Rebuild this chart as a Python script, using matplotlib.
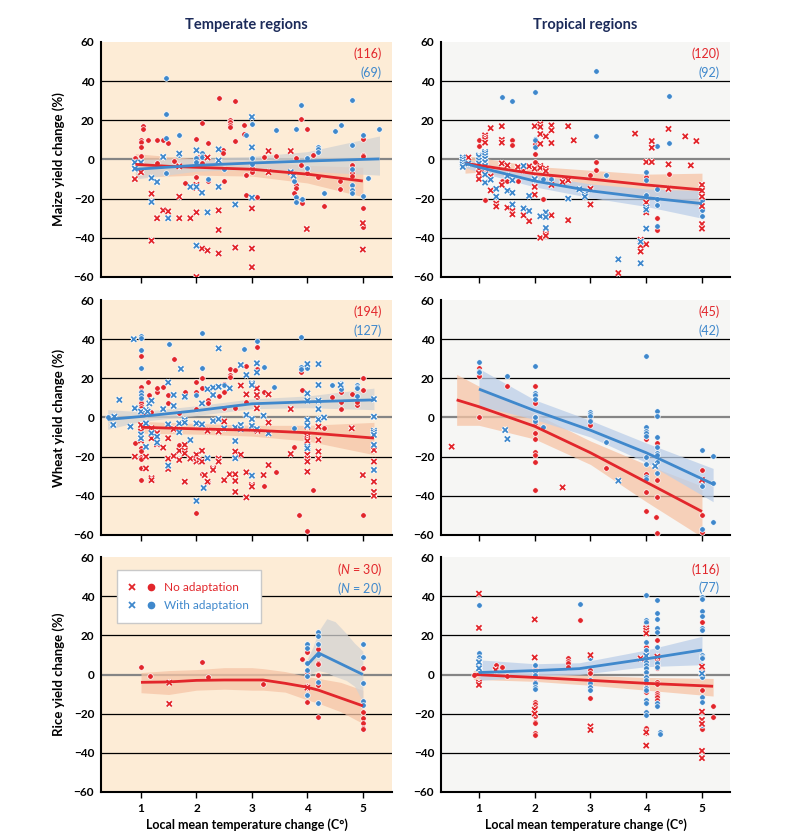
import numpy as np
import matplotlib
matplotlib.use("Agg")
import matplotlib.pyplot as plt
import matplotlib.patheffects as pe
from matplotlib.lines import Line2D
from matplotlib.legend_handler import HandlerTuple

plt.rcParams['font.family'] = ['Lato', 'DejaVu Sans']
plt.rcParams['mathtext.fontset'] = 'custom'
plt.rcParams['mathtext.rm'] = 'Lato'
plt.rcParams['mathtext.it'] = 'Lato:italic'

RED = '#e2262b'
BLUE = '#3f88cc'

# ---------------- maize, temperate ----------------
mt_no_dot = np.array([
    [0.9, 1], [1, 10], [1, 9], [1, 6.5], [1, 2], [1.04, 17], [1.04, 15.5], [1.12, 10],
    [1.29, 10], [1.4, 10], [1.49, 8.5], [1.29, -2], [1.59, -1], [1.79, -12], [1.99, 10.5],
    [2, -9], [2.1, 18.5], [2.1, -2], [2.05, 1.5], [2.2, 8.5], [2.2, -11], [2.4, 31.5],
    [2.48, 5], [2.48, 3.5], [2.5, -11], [2.7, 30], [2.6, 20], [2.6, 19], [2.6, 17.8],
    [2.6, 16.7], [2.7, 9.5], [2.85, 17.5], [2.85, 12.8], [2.9, -8], [2.9, -18], [3, -6.5],
    [3, -4.5], [3.1, -19], [3.21, 1.5], [3.44, 2], [3.8, 0.5], [3.8, -13], [3.8, -14.5],
    [3.75, -17], [3.89, 20.5], [3.89, -3], [3.9, -22], [3.99, 15.5], [4, -7], [4.1, 2.5],
    [4.2, -9], [4.3, -24], [4.59, -11], [4.59, -15], [4.8, -3], [4.8, -7], [4.8, -8.5],
    [5, 10.5], [5, 2.5], [5, 1.8], [5, -25], [5, -33.5], [5, -34.5]])
mt_no_x = np.array([
    [0.89, -10], [1, -6.5], [1.19, -17.5], [1.19, -41.5], [1.29, -30], [1.4, -26],
    [1.49, -26.5], [1.69, -19], [1.69, -30], [1.69, -3.5], [1.89, -30], [2, -13],
    [2, -14.5], [2, -27], [2, -60], [2.1, -45.5], [2.2, -46.5], [2.2, 1], [2.4, -26],
    [2.4, -36], [2.4, -48], [2.7, -45], [3, -45.5], [3, -55], [3, -25], [3.3, 4.3],
    [3.3, -6.5], [3.7, 4.3], [3.99, -35.5], [5, -32.5], [5, -46]])
mt_ad_dot = np.array([
    [1.45, 41.8], [1.45, 23], [1.45, 11], [1.45, -7], [1.69, 12.3], [1.69, 2.5], [2, 1],
    [2, -1.5], [2.1, 3.5], [2.1, 2], [2.1, 1.2], [2.2, -10], [2.5, -5], [2.9, 12.3],
    [3, 18.3], [3, 1], [3, -2.5], [3.44, 15], [3.75, -11], [3.8, 15.5], [3.8, -19],
    [3.8, -21.5], [3.89, 28], [3.9, -20], [4, -4.5], [4, 0.5], [4.2, 6.5], [4.2, 5.2],
    [4.2, 4], [4.3, -17], [4.5, 14.5], [4.6, 17.8], [4.8, 30.5], [4.8, 7.5], [4.8, -4.7],
    [4.8, -13], [4.8, -15.5], [4.8, -17], [5, 12.3], [5, -18.5], [5.1, -9.5], [5.3, 15.5]])
mt_ad_x = np.array([
    [0.89, -1.5], [0.89, -4.7], [1, -1.5], [1.19, -9.5], [1.19, -21.7], [1.29, -11.5],
    [1.4, 1.3], [1.49, -30], [1.69, 3], [1.89, -14], [2, 4.7], [2, -14], [2, -44],
    [2.1, -17], [2.2, -27], [2.4, 5.2], [2.4, -14], [2.4, -0.5], [2.7, -23], [3, 21.7],
    [3, 6.2], [3, -19.5], [3.7, -6.5], [3.75, -8.3]])
mt_no_line_x = [0.9, 1.5, 2, 3, 4, 5]
mt_no_line_y = [-2.5, -3.5, -4, -5, -7.5, -11]
mt_no_lo = [-9, -8.5, -8, -8.5, -12, -19]
mt_no_hi = [3, 1.5, 0.5, -1, -3, -4]
mt_ad_line_x = [0.9, 2, 3, 4, 5.3]
mt_ad_line_y = [-5, -3, -1.8, -0.8, 0.3]
mt_ad_lo = [-10, -6, -5, -6, -8]
mt_ad_hi = [0, 0.5, 1.5, 4, 12]

# ---------------- maize, tropical ----------------
mp_no_dot = np.array([
    [1, 9.8], [1, 6.7], [1.11, -20.5], [1.41, -11], [1.51, -11], [1.6, 9.8], [1.6, 7.4],
    [1.7, -11], [2, 3], [2, -1.3], [2, 8], [2.15, -20], [2.3, -9], [2.5, -10.5], [3, -8],
    [3.1, -1.5], [3.1, -5.5], [4, -9], [4.2, -30], [4.2, -36], [4.4, -7.5]])
mp_no_x = np.array([
    [0.81, 1], [1, -2], [1, -4.7], [1, -7], [1, -10], [1.11, 12.3], [1.11, 11], [1.11, 10],
    [1.11, 8.6], [1.11, -3.5], [1.11, -7], [1.21, 16], [1.21, -8.6], [1.21, -15.8],
    [1.31, -22.5], [1.31, -24], [1.41, 17], [1.41, 10], [1.41, 8.6], [1.41, -2], [1.41, -13],
    [1.51, -3], [1.51, -24.6], [1.6, -23], [1.6, -26.3], [1.6, -28], [1.7, -3.8],
    [1.8, -5.5], [1.8, -28.5], [1.9, -3.5], [1.9, -31.5], [2, 17], [2, -4.7], [2, -10],
    [2, -14], [2, -18], [2.1, 18], [2.1, 16.6], [2.1, 13], [2.1, 8], [2.1, -3.3],
    [2.1, -4.3], [2.1, -40], [2.2, 11.8], [2.2, -4.7], [2.2, -5.9], [2.2, -36.5],
    [2.2, -38], [2.2, -39], [2.3, 17.4], [2.3, 14.9], [2.3, 8.4], [2.3, -13], [2.3, -28.5],
    [2.5, -11.5], [2.6, 17], [2.6, -10.6], [2.6, -31], [2.7, 9.8], [3, -23], [3, -15],
    [3.5, -58], [3.8, 13.2], [3.9, -41], [3.9, -44], [3.9, -47], [4, -22], [4, -24.6],
    [4, -27], [4, -1.3], [4, -43.3], [4.1, 9.4], [4.1, 6], [4.1, -1.3], [4.4, 15.6],
    [4.4, -2.5], [4.4, -15], [4.7, 11.8], [4.8, -3], [4.9, 9.4], [5, -13], [5, -16],
    [5, -19], [5, -23.8], [5, -33], [5, -35.3]])
mp_ad_dot = np.array([
    [1.41, 31.9], [1.6, 29.9], [2, 34.3], [2, 10.6], [2, 9.8], [2, 6.4], [3.1, 45.2],
    [3.1, 12], [2.15, -10], [2.3, -10], [3.27, -8], [4, -6.4], [4, -10.6], [4, -18],
    [4.2, 6.9], [4.2, -15], [4.2, -20], [4.2, -23], [4.4, 32.3], [4.4, 8.6], [4.2, -34],
    [5, -20.5], [5, -25], [5, -26], [5, -29]])
mp_ad_x = np.array([
    [0.71, 1], [0.71, 0], [0.71, -1.3], [0.71, -2.6], [0.71, -3.8], [0.81, -2], [1, 2],
    [1, 1.3], [1, -0.5], [1, -2], [1.11, 3.8], [1.11, 3], [1.11, 1.8], [1.11, 0.4],
    [1.11, -1.3], [1.11, -3.3], [1.11, -7.7], [1.11, -11.8], [1.21, -10.3], [1.31, -15],
    [1.31, -19], [1.51, -8.4], [1.51, -16], [1.6, -10.6], [1.6, -17], [1.6, -23],
    [1.8, -3.3], [1.8, -25], [1.9, -18.6], [1.9, -26.3], [2, -10], [2.1, -29], [2.2, -27],
    [2.2, -29.4], [2.2, -35], [2.6, -20], [2.8, -15.2], [2.9, -18], [2.9, -19], [3.5, -51],
    [3.9, -42], [3.9, -53], [4, -24.6], [4, -25.6], [4, -35.3]])
mp_no_line_x = [0.75, 1, 2, 3, 4, 5]
mp_no_line_y = [-2, -3, -7.3, -10, -13, -15.5]
mp_no_lo = [-7, -6.5, -11, -15, -19, -24]
mp_no_hi = [2, 1, -3.5, -5.5, -7.5, -7]
mp_ad_line_x = [0.75, 1, 2, 3, 4, 5]
mp_ad_line_y = [-2, -4, -11, -16, -19.5, -22.5]
mp_ad_lo = [-4, -6.5, -14, -19.5, -24, -30]
mp_ad_hi = [0, -1.5, -8, -12.5, -15, -16]

# ---------------- wheat, temperate ----------------
wt_no_dot = np.array([
    [0.89, -13], [1, 31.5], [1, 15.7], [1, 13.5], [1, 11.5], [1, 9.8], [1, 8.4], [1, 7.2],
    [1, 6], [1, 4.7], [1, 3.5], [1, 2.5], [1, -15.7], [1, -17], [1, -20], [1, -21],
    [1, -25.6], [1, -32], [1.09, 2], [1.12, 18.3], [1.15, 11.5], [1.18, 3], [1.29, 12.8],
    [1.29, 15.3], [1.4, 15.7], [1.49, 11.5], [1.49, 7.2], [1.59, 30], [1.69, 2.5],
    [1.69, -14], [1.79, 13.2], [2, 18.3], [2, 13.2], [2, 4.3], [2, -21], [2, -49],
    [2.1, 25.5], [2.1, 20.4], [2.1, 15.3], [2.1, -29], [2.2, 8.9], [2.2, 7.2], [2.2, -32.8],
    [2.4, 11], [2.5, 17], [2.5, 12.8], [2.5, 5], [2.6, 25], [2.6, 21.7], [2.6, 20.8],
    [2.7, 24.3], [2.7, 4.7], [2.9, 26.3], [2.9, 8], [3.09, 35.8], [3.09, 25], [3.09, 10.5],
    [3.21, 12.8], [3.21, -35], [3.44, -27.7], [3.75, -15], [3.89, 23.7], [3.89, 23],
    [3.9, 14], [3.85, -50], [4, -58], [4.1, -37], [4.3, -5.5], [4.45, 10.3], [4.6, 4.3],
    [4.6, 8], [4.6, 13.2], [4.8, 11.8], [4.9, 6.4], [4.9, 7.7], [5, 20.4], [5, 14], [5, -50]])
wt_no_x = np.array([
    [0.89, -20], [1, -3.8], [1, -7.2], [1, -10.6], [1, -11.8], [1.09, -20], [1.09, -26],
    [1.19, -5.5], [1.19, -10.6], [1.19, -31], [1.19, -32], [1.29, -8], [1.29, -13.7],
    [1.4, -15.4], [1.49, -10.6], [1.49, -21], [1.49, -26.3], [1.59, -5.9], [1.59, -19.7],
    [1.69, -17], [1.69, -21.7], [1.79, -14], [1.79, -17], [1.79, -18.3], [1.79, -32.8],
    [1.89, -21], [2, -19], [2, -21.7], [2, -22.5], [2.05, -21.7], [2.1, -22.5], [2.1, -17],
    [2.15, -29.4], [2.2, -6.8], [2.2, -32.8], [2.3, -26], [2.3, -26.8], [2.4, -21],
    [2.4, -22.5], [2.4, -7.2], [2.5, -2], [2.5, -32], [2.6, -29], [2.7, -17.4], [2.7, -29],
    [2.7, -32.4], [2.7, -38], [2.8, 16.3], [2.8, -19], [2.9, 11.8], [2.9, -28], [2.9, -40.8],
    [3, -5.5], [3, -34.5], [3, -35.3], [3.09, 14.9], [3.09, 11.5], [3.09, 4.7], [3.1, -6.8],
    [3.21, -29.4], [3.3, 11.8], [3.3, -2.6], [3.3, -24.3], [3.7, 4.3], [3.7, -18.6],
    [4, -4.7], [4, -9.8], [4, -11], [4, -12], [4, -19], [4, -21], [4, -22.5], [4, -27.7],
    [4.2, -4.7], [4.2, -11.5], [4.2, -17.4], [4.2, -21], [4.8, -5.5], [5, -29.4],
    [5.2, -16.6], [5.2, -22.5], [5.2, -32.8], [5.2, -38], [5.2, -40]])
wt_ad_dot = np.array([
    [0.4, 0.4], [1, 41.8], [1, 40.7], [1, 34.5], [1, 25.5], [1, 13], [1, 11.5], [1, 9.8],
    [1.5, 37.4], [1.79, 10.3], [2.1, 43.3], [2.1, 25.5], [2, 11.5], [2.5, 16.6],
    [2.85, 35], [3.09, 39.2], [3.21, 25.8], [3.39, 15.7], [3.75, -5.5], [3.89, 41],
    [3.88, 25.8], [3.88, 24.8], [4, 25.5], [4.45, 16.6], [4.6, 17.8], [4.6, 17], [4.6, 16.3],
    [4.6, 15.3], [4.6, 14.4], [4.9, 16.6], [4.9, 15.7], [4.9, 14.9], [4.9, 11]])
wt_ad_x = np.array([
    [0.52, 0.4], [0.61, 9], [0.5, -3.8], [0.81, -4.7], [0.87, 40], [0.89, 4.7], [1, 3],
    [1, -8.6], [1, -10.6], [1.09, 3.8], [1.09, -3], [1.12, 3], [1.15, 7.2], [1.19, 8.6],
    [1.09, -15], [1.19, -8], [1.29, -9.8], [1.29, -12.8], [1.4, 4.3], [1.49, 17.9],
    [1.49, -3.5], [1.49, -24.6], [1.59, 11.5], [1.59, 5.9], [1.69, -3], [1.69, -7.5],
    [1.72, 24.8], [1.79, 10.6], [1.79, -1.3], [1.79, -2.6], [1.89, -11.5], [2, -3],
    [2, -42.6], [2.1, 7.2], [2.1, -3.5], [2.13, -36], [2.2, 14.5], [2.2, -20.8], [2.3, 15.3],
    [2.3, 11.5], [2.3, -1.8], [2.4, 35.3], [2.4, 15.7], [2.4, -0.8], [2.5, -5.5],
    [2.6, 14.9], [2.7, -5.1], [2.7, -12], [2.7, -20.8], [2.8, 26.8], [2.8, -3.8],
    [2.8, -5.9], [2.9, 21.7], [2.9, 1.3], [3, 17.4], [3, 16.6], [3, -0.8], [3, -4.3],
    [3, -29.7], [3.09, 27.7], [3.09, 23], [3.09, -5.9], [3.21, 0.9], [3.3, -8.1], [4, 12.3],
    [4, 8.6], [4, -1.3], [4, -4.2], [4, -14.9], [4, -15.7], [4, 27.3], [4.2, 27.3],
    [4.2, 16.6], [4.2, 8.6], [4.2, 4.3], [4.2, -1], [4.3, 0], [4.6, 16.6], [5.2, 9.4],
    [5.2, 0.4], [5.2, -6.8], [5.2, -7.7], [5.2, -8.9], [5.2, -14], [5.2, -26.8]])
wt_no_line_x = [1, 2, 3, 4, 5.2]
wt_no_line_y = [-5, -5.8, -6.5, -7.8, -10.5]
wt_no_lo = [-8, -8.5, -9.5, -12, -19]
wt_no_hi = [-2, -3, -4, -4, -2.5]
wt_ad_line_x = [0.4, 1, 2, 3, 4, 5.2]
wt_ad_line_y = [-1, 0.5, 3.5, 7, 8, 9]
wt_ad_lo = [-6, -2, 1, 4.5, 5, 4]
wt_ad_hi = [4, 3, 6, 9.5, 11, 15]

# ---------------- wheat, tropical ----------------
wp_no_dot = np.array([
    [1, 25.5], [1, 23], [1, 22], [1, 21.2], [1, 0], [1.51, 16.3], [2, 16.3], [2, 11.5],
    [2, 7.2], [2, 0], [2, -3], [2, -7.7], [2, -11], [2, -17.8], [2, -19.1], [2, -22.9],
    [2, -37], [3, -3.8], [3, -1.3], [3.27, -26], [4, -11], [4, -9.4], [4, -29], [4, -37.9],
    [4, -48], [4.17, -51], [4.2, -13.2], [4.2, -31.9], [4.2, -40.8], [4.2, -59],
    [5, -26.8], [5, -49.8], [5, -58.3]])
wp_no_x = np.array([[0.51, -14.9], [2.5, -35.7], [5, -31.9]])
wp_ad_dot = np.array([
    [1, 28.5], [1, 23.7], [1, 23], [1.51, 21.3], [2, 26.3], [2, 12.3], [2, 11.5], [2, 9.4],
    [2, -1.3], [2, -2], [2, 0], [2.15, -4.7], [3, 2.6], [3, 1.6], [3, 0.8], [3, -2],
    [3.27, -12.7], [4, 31.4], [4, -4.7], [4, -6.8], [4, -8.1], [4, -9.3], [4, -20],
    [4, -23.8], [4, -30.6], [4, -31.6], [4.2, 3.3], [4.2, 0.8], [4.2, -9.8], [4.2, -14.9],
    [4.2, -18], [4.2, -19.1], [4.2, -22.5], [4.2, -28.5], [5, -16.6], [5, -32.8],
    [5, -34.8], [5, -57], [5.2, -19.8], [5.2, -33.6], [5.2, -53.6]])
wp_ad_x = np.array([[1.47, -6.4], [1.51, -11], [3.5, -32.3], [4.16, -24.8]])
wp_no_line_x = [0.6, 1, 2, 3, 4, 5]
wp_no_line_y = [9, 5.5, -4.5, -18, -33, -48]
wp_no_lo = [-4, -4, -11, -24, -43, -61]
wp_no_hi = [22, 16, 2, -12, -24, -35]
wp_ad_line_x = [1, 2, 3, 4, 5.2]
wp_ad_line_y = [14.5, 3.5, -6.5, -18, -34]
wp_ad_lo = [6, -1, -10, -23, -43]
wp_ad_hi = [25, 9, -1.5, -13, -26]

# ---------------- rice, temperate ----------------
rt_no_dot = np.array([
    [1, 3.7], [1.16, -0.6], [2.1, 6.2], [2.2, -1.3], [3.2, -5], [3.9, 7.9], [4, 11.6],
    [4, 1.4], [4, -5.9], [4, -6.7], [4, -13.8], [4.2, 12.8], [4.2, 6], [4.2, 5.2], [4.2, 0],
    [4.2, -5.3], [4.2, -14.4], [4.2, -21.8], [5, 3.1], [5, -19.4], [5, -22], [5, -24.9],
    [5, -27.4], [5, -28]])
rt_no_x = np.array([[1.51, -4.2], [1.51, -15], [4, -6.7]])
rt_ad_dot = np.array([
    [4, 15.5], [4, 13.3], [4, 5.7], [4, 2.3], [4, -0.8], [4, -10.4], [4.2, 21.8],
    [4.2, 19.6], [4.2, 15.8], [4.2, 9.9], [4.2, -3.6], [4.2, -14.4], [5, 15.5], [5, 8.7],
    [5, -4.5], [5, -13.3], [5, -15.5]])
rt_ad_x = np.empty((0, 2))
rt_no_line_x = [1, 1.5, 2, 2.5, 3, 3.2, 3.6, 4, 4.2, 4.6, 5]
rt_no_line_y = [-4, -3.8, -3, -2.8, -2.8, -2.8, -4.5, -6.5, -8, -12, -16]
rt_no_lo = [-9.3, -10.2, -8, -7.5, -8, -8, -9, -13, -14.7, -19, -25]
rt_no_hi = [1, 2, 2.5, 3.5, 3.5, 3, 1.5, -1, -2, -4, -8]
rt_ad_line_x = [4, 4.2, 5]
rt_ad_line_y = [5, 11, 0]
rt_ad_band_x = [4, 4.1, 4.2, 4.35, 4.5, 4.7, 4.85, 5]
rt_ad_lo = [-1, 1, 2, 1, -1, -3, -6, -14]
rt_ad_hi = [8, 14, 22, 28.5, 27, 21, 16, 12]

# ---------------- rice, tropical ----------------
rp_no_dot = np.array([
    [0.91, -0.3], [1, 6.5], [1, 5.3], [1, 0.6], [1.3, 4.8], [1.3, 2.3], [1.41, 3.6],
    [1.51, -1], [2, 3.5], [2, 2.3], [2, 1.1], [2, -3.6], [2, -14.2], [2, -15.2], [2, -16.4],
    [2, -21], [2, -24], [2, -24.8], [2, -30], [2, -31], [2.6, 8.2], [2.6, 7], [2.6, 5.7],
    [2.6, 4], [2.81, 27.8], [3, 2.3], [3, 0.9], [3, -6.2], [3, -12.1], [4, 14.2], [4, 12.5],
    [4, 9.1], [4, 7.9], [4, 6.5], [4, 0.6], [4, -4.5], [4, -6.2], [4, -7.6], [4, -8.7],
    [4, -19.4], [4, -27.4], [4, -28.6], [4, -30], [4, 26.1], [4, 24], [4.2, 17.6],
    [4.2, 7.7], [4.2, 4.8], [4.2, 3.1], [4.2, -3.6], [4.2, -5], [4.2, -9.2], [4.2, -10.4],
    [4.2, -11.3], [4.2, -13], [4.2, -14.3], [5, 26.6], [5, 3.1], [5, 1.8], [5, 0.6],
    [5, -7.9], [5, -27.9], [5.2, -16], [5.2, -21.5]])
rp_no_x = np.array([
    [1, 41.3], [1, 23.8], [1, -4.2], [1, -5.3], [1.3, 2.3], [2, 28.1], [2, 8.7], [2, -18],
    [2, -20], [3, 9.9], [3, -26.5], [3, -28.3], [3.9, 8.2], [4, -29.5], [4, -36.3],
    [4, 23.6], [4, 22.4], [4, 21], [4.2, 9.1], [5, 4], [5, -19], [5, -23.2], [5, -25.2],
    [5, -39], [5, -42.7]])
rp_ad_dot = np.array([
    [1, 35.4], [1, 10.8], [1, 9.1], [1, 7.4], [1, 5.7], [1, 4], [1, 2.3], [2, 4.8], [2, 1.8],
    [2, -0.3], [2, -4.5], [2, -6.2], [2, -7.4], [2.81, 35.9], [3, 8.2], [3, -2.8], [3, -4.5],
    [3, -6.2], [3, -7.9], [4, 40.5], [4, 27.8], [4, 27], [4, 24.4], [4, 22.7], [4, 16.7],
    [4, 12.5], [4, 6.5], [4, 4.8], [4, 3.1], [4, 1.4], [4, -1.1], [4, -2.8], [4, -7],
    [4, -7.9], [4, -13], [4, -14.3], [4, -19.4], [4, -20.6], [4.2, 38.2], [4.2, 31.4],
    [4.2, 28.6], [4.2, 23.5], [4.2, 21.8], [4.2, 14.2], [4.2, 5.7], [4.2, 4], [4.2, -14.7],
    [4.2, -15.9], [4.25, -29.6], [4.25, -30.5], [5, 39.6], [5, 38.8], [5, 32.4], [5, 29.8],
    [5, 24], [5, 22.7], [5, 9.9], [5, 9.1], [5, 8.2], [5, 4.8], [5, -1.1], [5, -11.3],
    [5, -14.2], [5, -24.9], [5, -25.7]])
rp_ad_x = np.array([[1, 6.3], [1, 3.2], [4, 9.5], [5, 0.5]])
rp_no_line_x = [0.9, 2, 3, 4, 5.2]
rp_no_line_y = [0, -1.5, -3, -4.5, -6]
rp_no_lo = [-2.5, -3.5, -5.5, -8, -11]
rp_no_hi = [2, 0.5, -0.5, -1.5, -2]
rp_ad_line_x = [1, 2, 2.8, 4, 5]
rp_ad_line_y = [1, 2, 3, 8, 12.5]
rp_ad_lo = [-3, -1, 0, 4, 5]
rp_ad_hi = [7.5, 5.5, 6, 12.5, 19.5]

# sample-size labels
labels_no = ['(116)', '(120)', '(194)', '(45)', '($\\mathit{N}$ = 30)', '(116)']
labels_ad = ['(69)', '(92)', '(127)', '(42)', '($\\mathit{N}$ = 20)', '(77)']

row_names = ['Maize yield change (%)', 'Wheat yield change (%)', 'Rice yield change (%)']
col_titles = ['Temperate regions', 'Tropical regions']

halo = [pe.withStroke(linewidth=2.6, foreground='white')]


def panel(ax, no_dot, no_x, ad_dot, ad_x, no_fit, ad_fit, ad_band_col, bg, tag_no, tag_ad):
    ax.set_facecolor(bg)
    for yv in [-40, -20, 20, 40]:
        ax.axhline(yv, color='black', lw=0.9, zorder=1)
    ax.axhline(0, color='#858585', lw=1.6, zorder=1)

    nx, ny, nlo, nhi, nbx = no_fit
    axx, ayy, alo, ahi, abx = ad_fit
    ax.fill_between(nbx, nlo, nhi, color='#f6c4a6', alpha=0.75, lw=0, zorder=2)
    ax.fill_between(abx, alo, ahi, color=ad_band_col, alpha=0.75, lw=0, zorder=2)

    for pts, col in [(no_dot, RED), (ad_dot, BLUE)]:
        if len(pts):
            ax.scatter(pts[:, 0], pts[:, 1], s=16, color=col, edgecolor='white',
                       linewidth=0.5, zorder=3)
    for pts, col in [(no_x, RED), (ad_x, BLUE)]:
        if len(pts):
            sc = ax.scatter(pts[:, 0], pts[:, 1], s=14, marker='x', color=col,
                            linewidth=1.3, zorder=3)
            sc.set_path_effects(halo)

    ax.plot(nx, ny, color=RED, lw=2, zorder=4, solid_capstyle='butt')
    ax.plot(axx, ayy, color=BLUE, lw=2, zorder=4, solid_capstyle='butt')

    ax.set_ylim(-60, 60)
    ax.set_yticks(range(-60, 61, 20))
    ax.set_xticks([1, 2, 3, 4, 5])
    for s in ['top', 'right']:
        ax.spines[s].set_visible(False)
    for s in ['left', 'bottom']:
        ax.spines[s].set_linewidth(1.5)
    ax.tick_params(axis='y', length=0, pad=5, labelsize=8.5)
    ax.tick_params(axis='x', length=4, width=1, pad=4, labelsize=8.5)
    for lab in ax.get_xticklabels() + ax.get_yticklabels():
        lab.set_fontweight('bold')
    ax.text(0.965, 0.948, tag_no, color=RED, fontsize=9, ha='right', va='center',
            transform=ax.transAxes, zorder=5)
    ax.text(0.965, 0.868, tag_ad, color=BLUE, fontsize=9, ha='right', va='center',
            transform=ax.transAxes, zorder=5)


fig = plt.figure(figsize=(8, 8.38), dpi=100)
lefts = [0.1263, 0.5513]
widths = [0.364, 0.361]
bottoms = [0.6695, 0.3616, 0.0549]
xlims = [(0.28, 5.53), (0.32, 5.5)]
bgs = ['#fdecd6', '#f6f6f4']
band_ad = ['#d3d3d3', '#bccfe9']

data = [
    [(mt_no_dot, mt_no_x, mt_ad_dot, mt_ad_x,
      (mt_no_line_x, mt_no_line_y, mt_no_lo, mt_no_hi, mt_no_line_x),
      (mt_ad_line_x, mt_ad_line_y, mt_ad_lo, mt_ad_hi, mt_ad_line_x)),
     (mp_no_dot, mp_no_x, mp_ad_dot, mp_ad_x,
      (mp_no_line_x, mp_no_line_y, mp_no_lo, mp_no_hi, mp_no_line_x),
      (mp_ad_line_x, mp_ad_line_y, mp_ad_lo, mp_ad_hi, mp_ad_line_x))],
    [(wt_no_dot, wt_no_x, wt_ad_dot, wt_ad_x,
      (wt_no_line_x, wt_no_line_y, wt_no_lo, wt_no_hi, wt_no_line_x),
      (wt_ad_line_x, wt_ad_line_y, wt_ad_lo, wt_ad_hi, wt_ad_line_x)),
     (wp_no_dot, wp_no_x, wp_ad_dot, wp_ad_x,
      (wp_no_line_x, wp_no_line_y, wp_no_lo, wp_no_hi, wp_no_line_x),
      (wp_ad_line_x, wp_ad_line_y, wp_ad_lo, wp_ad_hi, wp_ad_line_x))],
    [(rt_no_dot, rt_no_x, rt_ad_dot, rt_ad_x,
      (rt_no_line_x, rt_no_line_y, rt_no_lo, rt_no_hi, rt_no_line_x),
      (rt_ad_line_x, rt_ad_line_y, rt_ad_lo, rt_ad_hi, rt_ad_band_x)),
     (rp_no_dot, rp_no_x, rp_ad_dot, rp_ad_x,
      (rp_no_line_x, rp_no_line_y, rp_no_lo, rp_no_hi, rp_no_line_x),
      (rp_ad_line_x, rp_ad_line_y, rp_ad_lo, rp_ad_hi, rp_ad_line_x))],
]

for r in range(3):
    for c in range(2):
        ax = fig.add_axes([lefts[c], bottoms[r], widths[c], 0.2804])
        d = data[r][c]
        k = r * 2 + c
        panel(ax, d[0], d[1], d[2], d[3], d[4], d[5], band_ad[c], bgs[c],
              labels_no[k], labels_ad[k])
        ax.set_xlim(*xlims[c])
        if r == 0:
            ax.set_title(col_titles[c], color='#1c2b5a', fontsize=10.5,
                         fontweight='bold', pad=9)
        if c == 0:
            ax.set_ylabel(row_names[r], fontsize=9.5, fontweight='bold', labelpad=6)
        if r < 2:
            ax.set_xticklabels([])
        else:
            ax.set_xlabel('Local mean temperature change (C°)', fontsize=9,
                          fontweight='bold', labelpad=3)
        if r == 2 and c == 0:
            h_no = (Line2D([], [], ls='', marker='x', color=RED, ms=4.5, mew=1.3),
                    Line2D([], [], ls='', marker='o', color=RED, ms=4.5))
            h_ad = (Line2D([], [], ls='', marker='x', color=BLUE, ms=4.5, mew=1.3),
                    Line2D([], [], ls='', marker='o', color=BLUE, ms=4.5))
            leg = ax.legend([h_no, h_ad], ['No adaptation', 'With adaptation'],
                            handler_map={tuple: HandlerTuple(ndivide=None, pad=0.9)},
                            loc='upper left', bbox_to_anchor=(0.054, 0.945),
                            borderaxespad=0, fontsize=8.5, fancybox=False,
                            framealpha=1, edgecolor='#c9c9c9', handlelength=2.2,
                            handletextpad=0.8, borderpad=1.0, labelspacing=0.6)
            leg.get_frame().set_linewidth(1.0)
            leg.set_zorder(6)
            for t, col in zip(leg.get_texts(), [RED, BLUE]):
                t.set_color(col)

fig.savefig('out.png', dpi=100)
